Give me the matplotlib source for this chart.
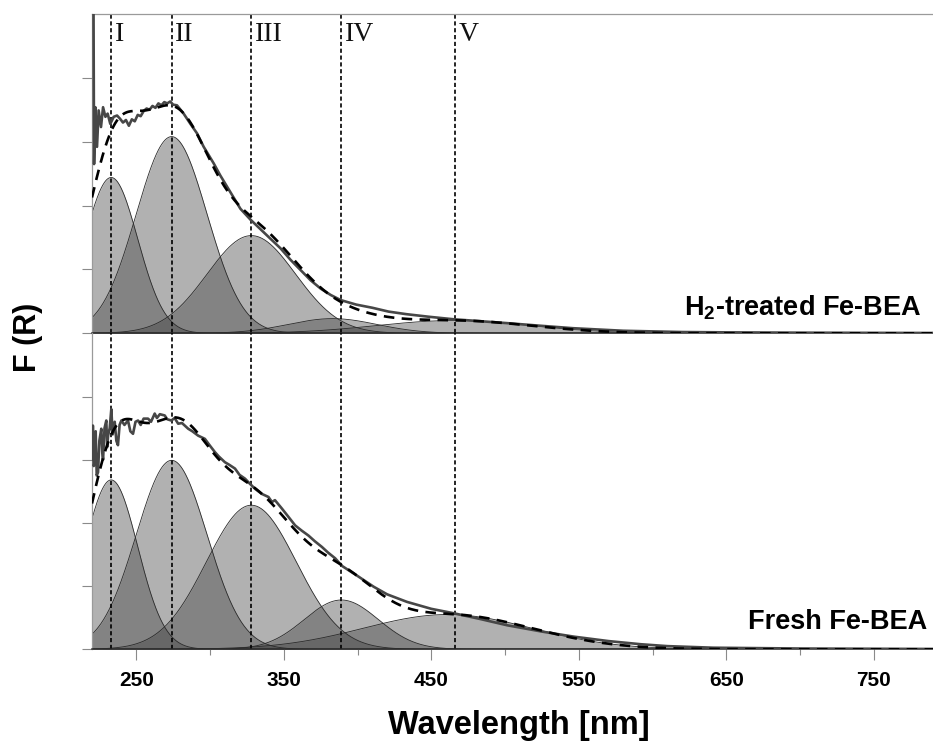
import numpy as np
import matplotlib
matplotlib.use("Agg")
import matplotlib.pyplot as plt

plt.rcParams['mathtext.default'] = 'regular'

# ---------------- data ----------------
band_labels = ["I", "II", "III", "IV", "V"]
band_positions = [233, 274, 328, 389, 466]

# Gaussian sub-bands (centre [nm], height, sigma [nm])
h2_centers = [233, 274, 328, 383, 465]
h2_heights = [2.44, 3.08, 1.53, 0.23, 0.20]
h2_sigmas = [18, 24, 30, 30, 52]

fresh_centers = [233, 274, 328, 389, 461]
fresh_heights = [2.68, 2.99, 2.28, 0.78, 0.55]
fresh_sigmas = [18, 24, 30.5, 25, 57]

h2_wl = [220.3, 220.9, 221.4, 222.3, 223.4, 224.5, 226.1, 227.5, 229.1, 230.6, 232.4,
         234.7, 237.0, 239.0, 241.0, 243.0, 245.0, 247.0, 249.0, 251.0, 253.0,
         255.0, 257.0, 259.0, 261.0, 263.0, 265.0, 267.0, 269.0, 271.0, 273.0,
         275.0, 277.6, 282.1, 286.7, 291.2, 295.7, 302.5, 307.0, 313.8, 320.6,
         327.4, 334.2, 341.0, 347.8, 354.6, 361.4, 368.2, 375.0, 381.8, 388.6,
         399.0, 410.0, 421.0, 433.0, 448.0, 465.0, 483.0, 501.0, 523.0, 546.0,
         563.0, 580.0, 600.0, 620.0, 650.0, 700.0, 750.0, 790.0]
h2_fr = [6.00, 6.00, 2.65, 3.54, 2.92, 3.49, 3.23, 3.54, 3.39, 3.44, 3.28,
         3.39, 3.41, 3.36, 3.30, 3.34, 3.25, 3.35, 3.32, 3.42, 3.40,
         3.48, 3.52, 3.50, 3.56, 3.53, 3.60, 3.57, 3.62, 3.60, 3.63,
         3.58, 3.57, 3.44, 3.28, 3.13, 2.92, 2.66, 2.47, 2.21, 1.95,
         1.78, 1.63, 1.48, 1.33, 1.15, 0.99, 0.83, 0.70, 0.60, 0.52,
         0.45, 0.40, 0.34, 0.30, 0.26, 0.22, 0.19, 0.16, 0.12, 0.08,
         0.06, 0.04, 0.03, 0.02, 0.015, 0.01, 0.007, 0.005]

fresh_wl = [220.2, 220.6, 221.2, 221.8, 222.5, 223.2, 224.1, 225.0, 226.3, 227.0,
            227.5, 228.5, 229.7, 230.3, 230.9, 232.0, 233.1, 234.0, 235.4, 236.5,
            237.6, 238.7, 239.9, 242.0, 244.4, 246.0, 247.8, 249.5, 251.2, 253.0,
            255.0, 258.0, 260.0, 262.5, 264.0, 266.0, 269.3, 271.0, 273.8, 276.0,
            278.4, 281.0, 285.2, 288.0, 292.0, 296.5, 300.0, 303.3, 306.0, 310.1,
            313.0, 316.9, 320.0, 323.7, 327.0, 330.5, 335.0, 339.6, 342.0, 344.0,
            348.6, 353.0, 357.7, 362.0, 366.7, 371.0, 375.8, 380.0, 384.8, 389.4,
            394.0, 400.0, 410.9, 420.0, 433.5, 450.0, 465.2, 483.0, 501.4, 525.0,
            546.6, 570.0, 591.9, 610.0, 641.0, 700.0, 790.0]
fresh_fr = [3.00, 3.54, 2.90, 2.96, 3.45, 2.75, 2.80, 3.30, 3.49, 3.10,
            3.00, 3.50, 3.62, 3.20, 3.38, 3.50, 3.80, 3.40, 3.60, 3.30,
            3.23, 3.55, 3.62, 3.55, 3.62, 3.45, 3.41, 3.60, 3.62, 3.55,
            3.65, 3.65, 3.60, 3.73, 3.66, 3.72, 3.70, 3.64, 3.62, 3.66,
            3.57, 3.58, 3.49, 3.45, 3.38, 3.33, 3.22, 3.12, 3.05, 2.96,
            2.92, 2.86, 2.76, 2.70, 2.62, 2.54, 2.46, 2.41, 2.33, 2.36,
            2.23, 2.10, 1.96, 1.88, 1.80, 1.71, 1.62, 1.53, 1.44, 1.32,
            1.25, 1.16, 0.99, 0.87, 0.75, 0.64, 0.57, 0.48, 0.38, 0.28,
            0.20, 0.13, 0.08, 0.05, 0.025, 0.012, 0.005]

x_major = [250, 350, 450, 550, 650, 750]
x_minor = [300, 400, 500, 600, 700]
y_ticks = [0, 1, 2, 3, 4]

panel_titles = ["H$_2$-treated Fe-BEA", "Fresh Fe-BEA"]

# ---------------- figure ----------------
fig = plt.figure(figsize=(9.33, 7.44), dpi=100)
ax1 = fig.add_axes([0.0986, 0.552, 0.9014, 0.4292])
ax2 = fig.add_axes([0.0986, 0.1273, 0.9014, 0.4247])

x = np.linspace(220, 790, 1500)

panels = [
    (ax1, h2_centers, h2_heights, h2_sigmas, h2_wl, h2_fr),
    (ax2, fresh_centers, fresh_heights, fresh_sigmas, fresh_wl, fresh_fr),
]

for ax, cs, hs, ss, wl, fr in panels:
    total = np.zeros_like(x)
    for c, h, s in zip(cs, hs, ss):
        g = h * np.exp(-(x - c) ** 2 / (2 * s ** 2))
        total += g
        ax.fill_between(x, 0, g, color='#3e3e3e', alpha=0.4, lw=0, zorder=1)
        ax.plot(x, g, color='#2a2a2a', lw=0.6, zorder=1.5)
    for p in band_positions:
        ax.axvline(p, color='black', lw=1.2, ls=(0, (2.5, 1.6)), zorder=2)
    ax.plot(wl, fr, color='#474747', lw=1.9, zorder=3)
    ax.plot(x, total, color='black', lw=1.9, ls=(0, (4, 2.8)), zorder=4)

    ax.set_xlim(220, 790)
    ax.set_ylim(0, 5)
    ax.set_yticks(y_ticks)
    ax.set_yticklabels([])
    ax.tick_params(axis='y', direction='out', length=7.5, width=0.8, color='#8a8a8a')
    ax.spines['right'].set_visible(False)
    ax.spines['left'].set_color('#9a9a9a')
    ax.spines['left'].set_linewidth(0.9)
    ax.spines['bottom'].set_color('#2a2a2a')
    ax.spines['bottom'].set_linewidth(1.1)
    ax.patch.set_alpha(0)

ax1.spines['top'].set_color('#9a9a9a')
ax1.spines['top'].set_linewidth(0.9)
ax2.spines['top'].set_visible(False)
ax1.tick_params(axis='x', bottom=False, labelbottom=False, which='both')

ax2.set_xticks(x_major)
ax2.set_xticks(x_minor, minor=True)
ax2.set_xticklabels([str(v) for v in x_major])
ax2.tick_params(axis='x', which='major', direction='out', length=7.7, width=0.8,
                color='#8a8a8a', pad=8)
ax2.tick_params(axis='x', which='minor', direction='out', length=4, width=0.8,
                color='#8a8a8a')
for lab in ax2.get_xticklabels():
    lab.set_fontfamily('Liberation Sans')
    lab.set_fontweight('bold')
    lab.set_fontsize(15)

for lab, p in zip(band_labels, band_positions):
    ax1.text(p + 2.5, 4.57, lab, family='Liberation Serif', fontsize=20,
             ha='left', va='baseline', color='#111111', zorder=5)

fig.text(0.988, 0.5766, panel_titles[0], ha='right', va='baseline',
         family='Liberation Sans', fontweight='bold', fontsize=19.5)
fig.text(0.9936, 0.1546, panel_titles[1], ha='right', va='baseline',
         family='Liberation Sans', fontweight='bold', fontsize=19.5)

fig.text(0.556, 0.0255, 'Wavelength [nm]', ha='center', va='center',
         family='Liberation Sans', fontweight='bold', fontsize=23.5)
fig.text(0.0295, 0.547, 'F (R)', ha='center', va='center', rotation=90,
         family='Liberation Sans', fontweight='bold', fontsize=22)

fig.savefig('out.png', dpi=100)
